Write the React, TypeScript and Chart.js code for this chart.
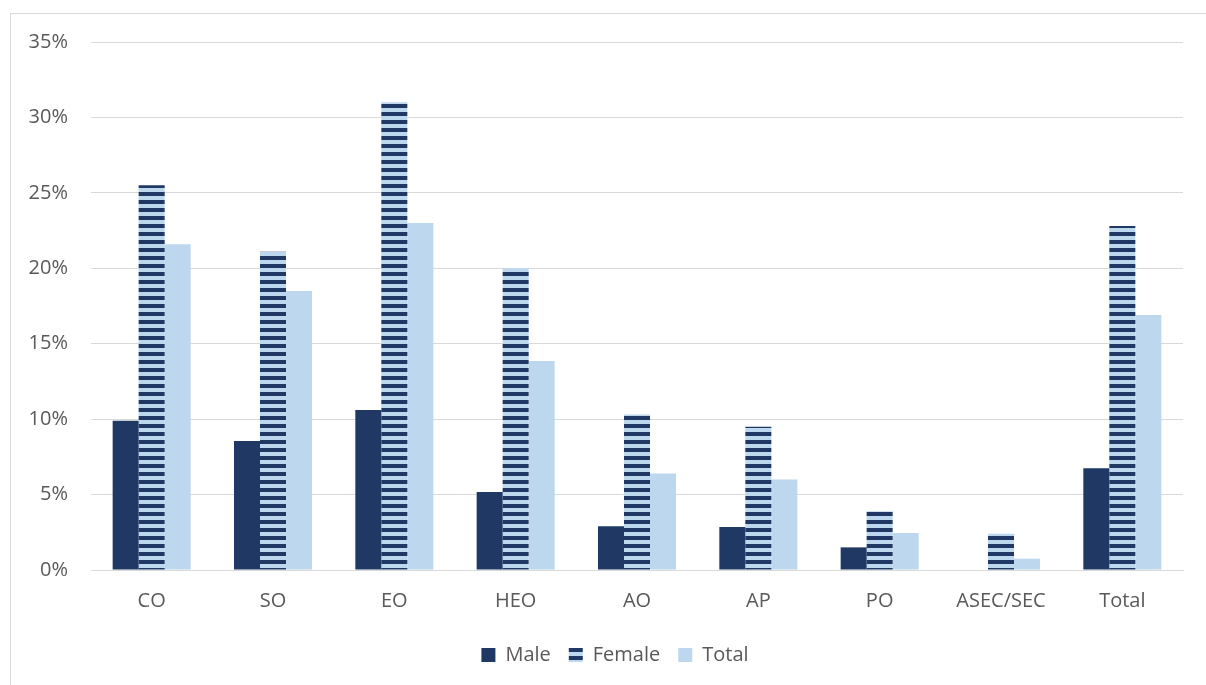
import React, { useEffect, useRef } from "react";
import { Chart, registerables } from "chart.js";

Chart.register(...registerables);

const categories = ["CO", "SO", "EO", "HEO", "AO", "AP", "PO", "ASEC/SEC", "Total"];
const maleValues = [9.9, 8.55, 10.6, 5.17, 2.9, 2.85, 1.5, 0, 6.75];
const femaleValues = [25.5, 21.1, 31.0, 20.0, 10.3, 9.5, 3.9, 2.4, 22.8];
const totalValues = [21.6, 18.5, 23.0, 13.85, 6.4, 6.0, 2.45, 0.75, 16.9];
const seriesNames = ["Male", "Female", "Total"];

const DARK = "#203864";
const LIGHT = "#BDD7EE";
const FONT = "'Open Sans', 'Liberation Sans', sans-serif";

function makeStripePattern(ctx: CanvasRenderingContext2D) {
  const c = document.createElement("canvas");
  c.width = 8;
  c.height = 8;
  const p = c.getContext("2d")!;
  p.fillStyle = LIGHT;
  p.fillRect(0, 0, 8, 8);
  p.fillStyle = DARK;
  p.fillRect(0, 0, 8, 4);
  return ctx.createPattern(c, "repeat")!;
}

const shiftLegend = {
  id: "shiftLegend",
  afterLayout(chart: any) {
    if (chart.legend) {
      chart.legend.left += 47;
    }
  },
};

export default function App() {
  const ref = useRef<HTMLCanvasElement | null>(null);
  useEffect(() => {
    const canvas = ref.current!;
    const ctx = canvas.getContext("2d")!;
    const stripe = makeStripePattern(ctx);
    const chart = new Chart(ctx, {
      type: "bar",
      data: {
        labels: categories,
        datasets: [
          { label: seriesNames[0], data: maleValues, backgroundColor: DARK },
          { label: seriesNames[1], data: femaleValues, backgroundColor: stripe as any },
          { label: seriesNames[2], data: totalValues, backgroundColor: LIGHT },
        ],
      },
      plugins: [shiftLegend],
      options: {
        animation: false,
        responsive: false,
        maintainAspectRatio: false,
        devicePixelRatio: 1,
        layout: { padding: { left: 0, right: 23, top: 42, bottom: 10 } },
        datasets: { bar: { categoryPercentage: 0.643, barPercentage: 1 } },
        scales: {
          x: {
            grid: { display: false, drawTicks: false },
            border: { display: true, color: "#d9d9d9", width: 1 },
            ticks: { color: "#595959", font: { family: FONT, size: 20 }, padding: 19 },
            afterFit: (s: any) => { s.height = 57; },
          },
          y: {
            min: 0,
            max: 35,
            grid: { color: "#d9d9d9", lineWidth: 1, drawTicks: false },
            border: { display: false },
            ticks: {
              stepSize: 5,
              color: "#595959",
              font: { family: FONT, size: 20 },
              padding: 23,
              callback: (v: any) => v + "%",
            },
            afterFit: (s: any) => { s.width = 91; },
          },
        },
        plugins: {
          tooltip: { enabled: false },
          legend: {
            position: "bottom",
            labels: {
              color: "#595959",
              font: { family: FONT, size: 20 },
              boxWidth: 14,
              boxHeight: 14,
              padding: 18,
            },
          },
        },
      },
    });
    return () => chart.destroy();
  }, []);
  return (
    <div style={{ position: "fixed", left: 0, top: 0, width: 1206, height: 685, background: "#fff" }}>
      <div
        style={{
          position: "absolute",
          left: 10,
          top: 13,
          width: 1220,
          height: 700,
          border: "1px solid #d9d9d9",
          boxSizing: "border-box",
        }}
      />
      <canvas ref={ref} width={1206} height={685} style={{ position: "absolute", left: 0, top: 0 }} />
    </div>
  );
}
